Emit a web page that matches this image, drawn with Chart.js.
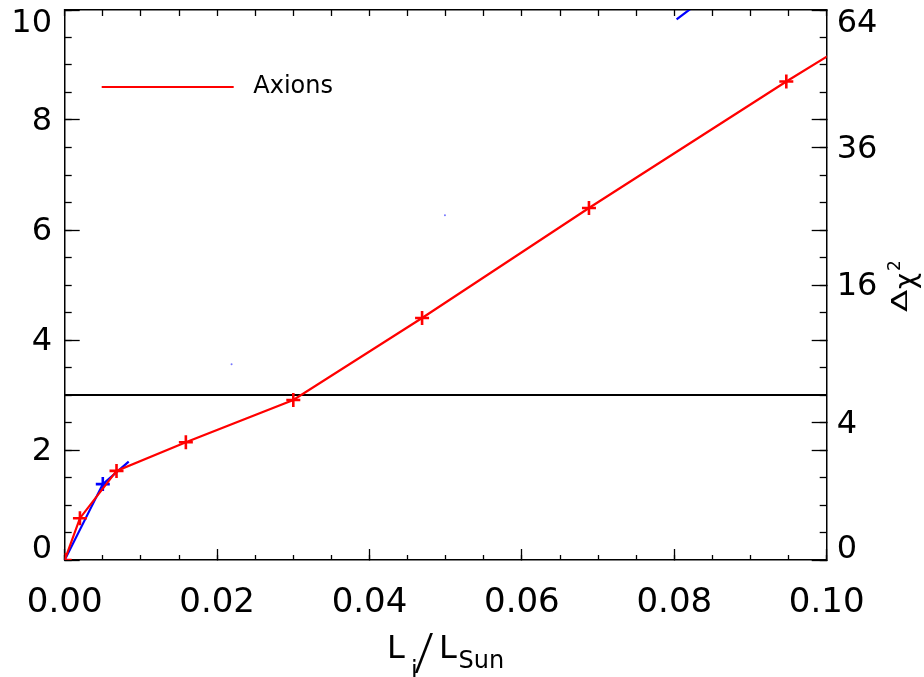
<!DOCTYPE html>
<html>
<head>
<meta charset="utf-8">
<script src="https://cdn.jsdelivr.net/npm/chart.js@4/dist/chart.umd.min.js"></script>
<style>
html,body{margin:0;padding:0;background:#fff;}
canvas{display:block;}
</style>
</head>
<body>
<canvas id="c" width="924" height="677"></canvas>
<script>
// ---------------- data ----------------
const axionX = [0, 0.0020, 0.0068, 0.0159, 0.0300, 0.0469, 0.0688, 0.0947, 0.1150];
const axionY = [0, 0.76, 1.62, 2.14, 2.91, 4.40, 6.40, 8.70, 10.43];

const blueX = [0, 0.0050, 0.0084, null, 0.0803, 0.0850];
const blueY = [0, 1.38, 1.79, null, 9.83, 10.32];
const blueMarker = [false, true, false, false, false, false];

const dotX = [0.0219, 0.0499];
const dotY = [3.56, 6.27];

const thresholdY = 3;

// ---------------- axes / ticks ----------------
const X_MIN = 0, X_MAX = 0.10, Y_MIN = 0, Y_MAX = 10;
const xMajorTicks = [0, 0.02, 0.04, 0.06, 0.08, 0.10];
const xMinorStep = 0.005;
const yMajorTicks = [0, 2, 4, 6, 8, 10];
const yMinorStep = 0.5;
const chiTicks = [0, 4, 16, 36, 64];          // right axis labels (Δχ²)
const chiToY = c => 1.25 * Math.sqrt(c);       // right axis: sqrt scale

const FONT = '"DejaVu Sans", sans-serif';
Chart.defaults.font.family = FONT;
Chart.defaults.color = '#000';

function stepTicks(min, max, step) {
  const out = [];
  const n = Math.round((max - min) / step);
  for (let i = 0; i <= n; i++) out.push(+(min + i * step).toFixed(6));
  return out;
}
function setTicks(values) {
  return scale => { scale.ticks = values.map(v => ({ value: v })); };
}
function fitTo(w, h) {
  return s => {
    if (w !== null) s.width = w;
    if (h !== null) s.height = h;
    s.paddingLeft = 0; s.paddingRight = 0; s.paddingTop = 0; s.paddingBottom = 0;
  };
}
const pts = (xs, ys) => xs.map((x, i) => ({ x: x, y: ys[i] }));

const y2Values = [...new Set([...yMajorTicks, ...chiTicks.map(chiToY)])].sort((a, b) => a - b);

function edgeLabel(v, s) {
  if (v === Y_MAX) return ['', s];
  if (v === Y_MIN) return [s, ''];
  return s;
}
function edgeFont(size) {
  return ctx => {
    const v = ctx.tick ? ctx.tick.value : null;
    return { family: FONT, size: size, lineHeight: (v === Y_MIN || v === Y_MAX) ? 0.74 : 1.2 };
  };
}

const gridIn = len => ({
  display: true, drawOnChartArea: false, drawTicks: true,
  tickLength: -len, tickColor: '#000', tickWidth: 1.3, color: '#000'
});
const borderOn = { display: true, color: '#000', width: 1.5 };
const borderOff = { display: false };

// ---------------- titles (x title with subscripts, rotated Δχ²) ----------------
const titlesPlugin = {
  id: 'titles',
  afterDraw(chart) {
    const ctx = chart.ctx;
    const f = s => s + 'px ' + FONT;
    ctx.save();
    ctx.fillStyle = '#000';
    ctx.textAlign = 'left';
    ctx.textBaseline = 'alphabetic';
    ctx.font = f(32); ctx.fillText('L', 387, 658);
    ctx.font = f(24); ctx.fillText('i', 411, 678);
    ctx.font = '300 52px Roboto, ' + FONT; ctx.fillText('/', 414, 670);
    ctx.font = f(32); ctx.fillText('L', 439, 658);
    ctx.font = f(24); ctx.fillText('Sun', 458.5, 668);
    ctx.restore();

    // right axis title Δχ² (reads bottom to top)
    ctx.save();
    ctx.fillStyle = '#000';
    ctx.textAlign = 'left';
    ctx.textBaseline = 'alphabetic';
    ctx.translate(907, 312);
    ctx.rotate(-Math.PI / 2);
    ctx.save();
    ctx.scale(1.55, 1);
    ctx.font = f(21);
    ctx.fillText('Δ', 0, 0);
    ctx.restore();
    ctx.font = f(28);
    ctx.fillText('χ', 23, 8);
    ctx.font = f(17);
    ctx.fillText('2', 41, -7);
    ctx.restore();
  }
};

new Chart(document.getElementById('c'), {
  type: 'line',
  data: {
    datasets: [
      {
        label: 'Axions',
        data: pts(axionX, axionY),
        borderColor: '#ff0000',
        backgroundColor: '#ff0000',
        borderWidth: 2.2,
        pointStyle: 'cross',
        pointRadius: 7,
        pointBorderWidth: 2.6,
        pointBorderColor: '#ff0000',
        clip: 0,
        tension: 0
      },
      {
        label: 'blue',
        data: pts(blueX, blueY),
        borderColor: '#0000ff',
        backgroundColor: '#0000ff',
        borderWidth: 2.2,
        pointStyle: 'cross',
        pointRadius: blueMarker.map(m => m ? 7 : 0),
        pointBorderWidth: 2.6,
        pointBorderColor: '#0000ff',
        spanGaps: false,
        clip: 0,
        tension: 0
      },
      {
        label: 'threshold',
        data: [{ x: X_MIN, y: thresholdY }, { x: X_MAX, y: thresholdY }],
        borderColor: '#000',
        borderWidth: 2.2,
        pointRadius: 0,
        clip: 0
      },
      {
        label: 'dots',
        data: pts(dotX, dotY),
        showLine: false,
        pointStyle: 'circle',
        pointRadius: 1,
        pointBorderWidth: 0,
        backgroundColor: 'rgba(60,60,255,0.7)',
        clip: 0
      }
    ]
  },
  options: {
    responsive: false,
    devicePixelRatio: 1,
    animation: false,
    events: [],
    layout: { padding: 0 },
    scales: {
      x: {
        type: 'linear', position: 'bottom', min: X_MIN, max: X_MAX, weight: 1,
        afterBuildTicks: setTicks(xMajorTicks),
        afterFit: fitTo(null, 117),
        ticks: {
          autoSkip: false, maxRotation: 0, padding: 33.4,
          font: { family: FONT, size: 34 }, color: '#000',
          callback: v => v.toFixed(2)
        },
        grid: gridIn(11),
        border: borderOn
      },
      xMinor: {
        type: 'linear', position: 'bottom', min: X_MIN, max: X_MAX, weight: 0,
        afterBuildTicks: setTicks(stepTicks(X_MIN, X_MAX, xMinorStep)),
        afterFit: fitTo(null, 0),
        ticks: { display: false, autoSkip: false },
        grid: gridIn(5),
        border: borderOff
      },
      xTop: {
        type: 'linear', position: 'top', min: X_MIN, max: X_MAX, weight: 0,
        afterBuildTicks: setTicks(stepTicks(X_MIN, X_MAX, xMinorStep)),
        afterFit: fitTo(null, 10),
        ticks: { display: false, autoSkip: false },
        grid: gridIn(6),
        border: borderOn
      },
      y: {
        type: 'linear', position: 'left', min: Y_MIN, max: Y_MAX, weight: 1,
        afterBuildTicks: setTicks(yMajorTicks),
        afterFit: fitTo(64.7, null),
        ticks: {
          autoSkip: false, padding: 27.7, labelOffset: 2,
          font: edgeFont(32), color: '#000',
          callback: v => edgeLabel(v, String(v))
        },
        grid: gridIn(15),
        border: borderOn
      },
      yMinor: {
        type: 'linear', position: 'left', min: Y_MIN, max: Y_MAX, weight: 0,
        afterBuildTicks: setTicks(stepTicks(Y_MIN, Y_MAX, yMinorStep)),
        afterFit: fitTo(0, null),
        ticks: { display: false, autoSkip: false },
        grid: gridIn(7),
        border: borderOff
      },
      y2: {
        type: 'linear', position: 'right', min: Y_MIN, max: Y_MAX, weight: 1,
        afterBuildTicks: setTicks(y2Values),
        afterFit: fitTo(97.3, null),
        ticks: {
          autoSkip: false, padding: 25, labelOffset: 2,
          font: edgeFont(32), color: '#000',
          callback: v => {
            const i = chiTicks.findIndex(c => Math.abs(chiToY(c) - v) < 1e-9);
            return i < 0 ? '' : edgeLabel(v, String(chiTicks[i]));
          }
        },
        grid: gridIn(15),
        border: borderOn
      },
      y2Minor: {
        type: 'linear', position: 'right', min: Y_MIN, max: Y_MAX, weight: 0,
        afterBuildTicks: setTicks(stepTicks(Y_MIN, Y_MAX, yMinorStep)),
        afterFit: fitTo(0, null),
        ticks: { display: false, autoSkip: false },
        grid: gridIn(7),
        border: borderOff
      }
    },
    plugins: {
      tooltip: { enabled: false },
      legend: {
        display: true,
        position: 'chartArea',
        align: 'start',
        title: { display: true, text: '', font: { size: 10, lineHeight: 1 }, padding: { top: 28, bottom: 0 } },
        labels: {
          boxWidth: 132, boxHeight: 2, padding: 37,
          font: { family: FONT, size: 24 }, color: '#000',
          generateLabels: () => [{
            text: ' Axions', fillStyle: '#ff0000', strokeStyle: '#ff0000',
            lineWidth: 0, datasetIndex: 0, hidden: false
          }]
        }
      }
    }
  },
  plugins: [titlesPlugin]
});
</script>
</body>
</html>
